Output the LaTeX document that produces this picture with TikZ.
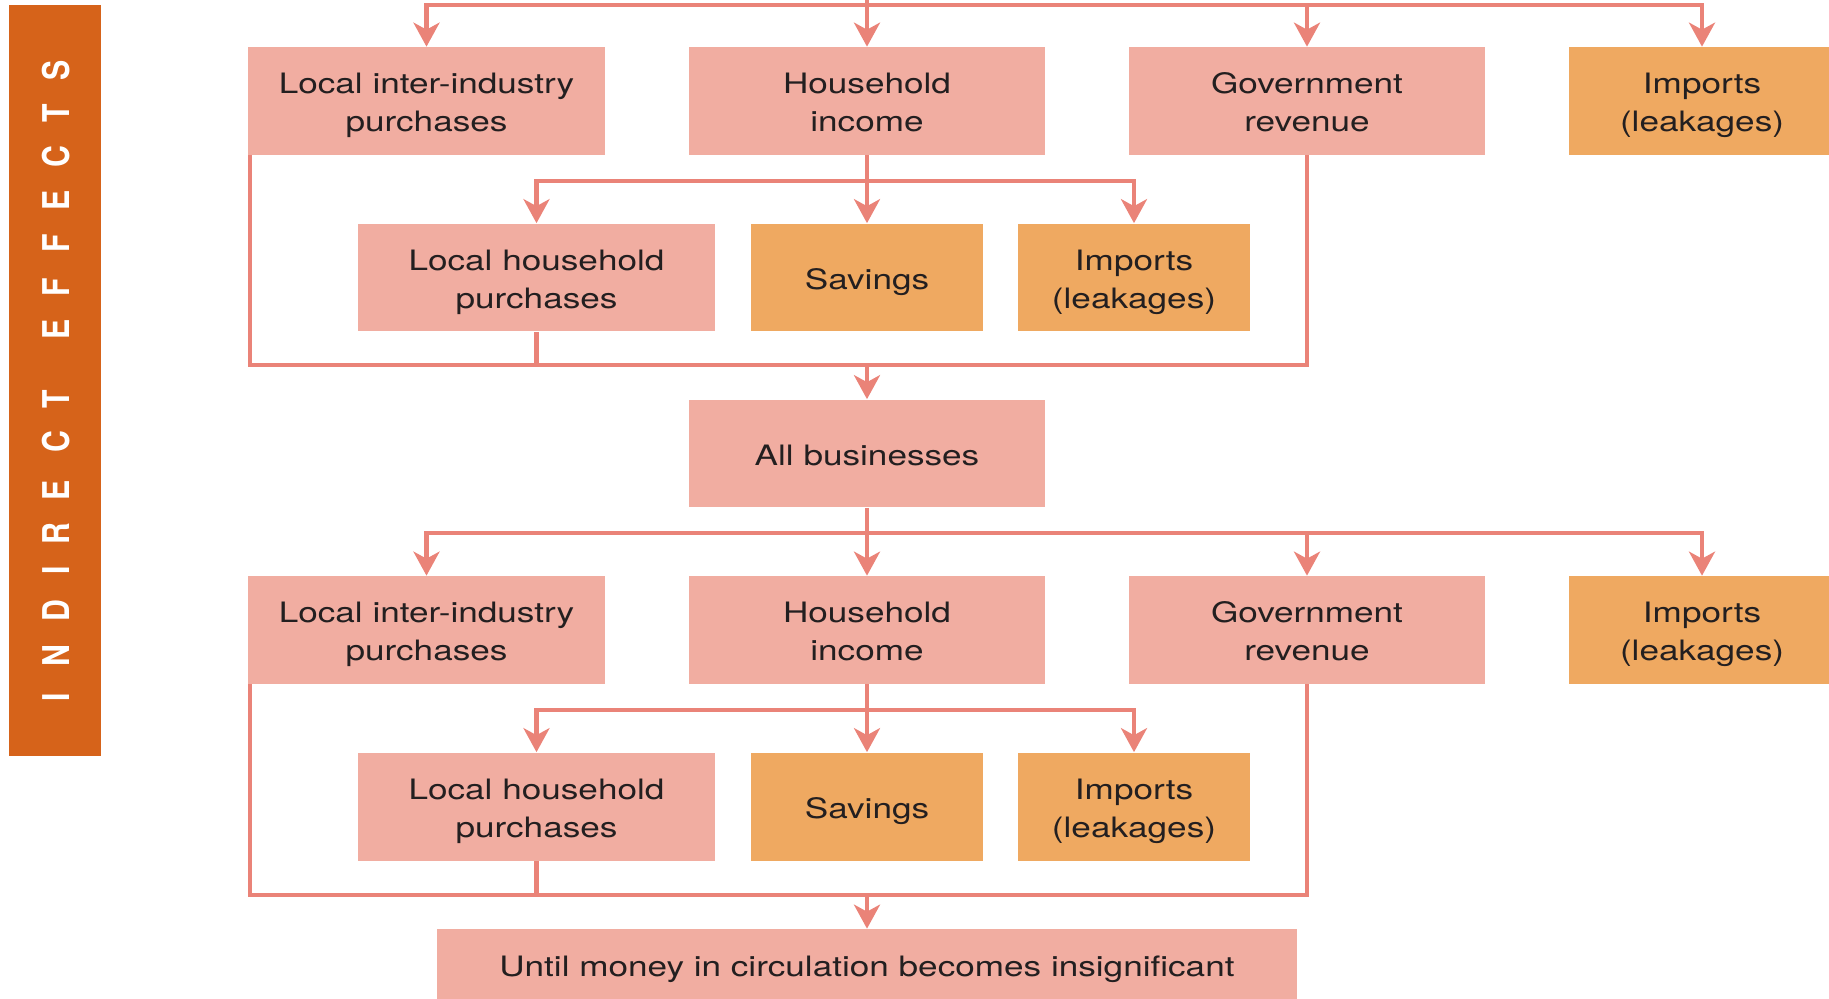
\documentclass[tikz,border=0pt]{standalone}
\usepackage{fontspec}
\setmainfont{TeX Gyre Heros}[FakeStretch=1.25]
\newfontfamily\barfont{TeX Gyre Heros}[FakeStretch=0.82]
\usetikzlibrary{arrows.meta}
\definecolor{boxpink}{HTML}{F1ADA1}
\definecolor{boxorange}{HTML}{EFA961}
\definecolor{barorange}{HTML}{D6631A}
\definecolor{flowred}{HTML}{EA8378}
\definecolor{inkgray}{HTML}{231F20}
% text sits a little low in the boxes
\newcommand\boxlbl[1]{\raisebox{-2.3pt}[\height][\depth]{\begin{tabular}{@{}c@{}}#1\end{tabular}}}

\begin{document}
\begin{tikzpicture}[x=0.02cm, y=-0.02cm,
    box/.style={minimum width=7.14cm, minimum height=2.16cm, inner sep=0pt, align=center,
      text=inkgray, font=\fontsize{16}{21.6}\selectfont},
    pinkbox/.style={box, fill=boxpink},
    leakbox/.style={box, fill=boxorange},
    wire/.style={draw=flowred, line width=2.5pt},
    flow/.style={wire, -{Stealth[length=0.48cm, width=0.52cm, inset=0.14cm]}},
    barletter/.style={rotate=90, inner sep=0pt, text=white,
      font=\barfont\bfseries\fontsize{21}{21}\selectfont}]
        \useasboundingbox (0,0) rectangle (1829,998);

        \node[fill=barorange, inner sep=0pt, minimum width=1.84cm, minimum height=15.02cm] (bar) at (55,380.5) {};
        \foreach \ch/\yy [count=\i] in {I/697,N/656,D/611,I/570,R/534,E/490,C/442,T/399,
                                        E/329,F/287,F/243,E/200,C/157,T/113,S/70}
            \node[barletter] (letter\i) at (56.5,\yy) {\ch};

        % first round
        \node[pinkbox] (liip1) at (426.5,101) {\boxlbl{Local inter-industry\\purchases}};
        \node[pinkbox] (hi1) at (867,101) {\boxlbl{Household\\income}};
        \node[pinkbox] (gr1) at (1307,101) {\boxlbl{Government\\revenue}};
        \node[leakbox, minimum width=5.32cm] (imp1) at (1702,101) {\boxlbl{Imports\\(leakages)}};
        \node[pinkbox] (lhp1) at (536.5,277.5) {\boxlbl{Local household\\purchases}};
        \node[leakbox, minimum width=4.64cm] (sav1) at (867,277.5) {\boxlbl{Savings}};
        \node[leakbox, minimum width=4.64cm] (imp2) at (1134,277.5) {\boxlbl{Imports\\(leakages)}};

        \node[pinkbox] (ab) at (867,453.5) {\boxlbl{All businesses}};

        % second round
        \node[pinkbox] (liip2) at (426.5,630) {\boxlbl{Local inter-industry\\purchases}};
        \node[pinkbox] (hi2) at (867,630) {\boxlbl{Household\\income}};
        \node[pinkbox] (gr2) at (1307,630) {\boxlbl{Government\\revenue}};
        \node[leakbox, minimum width=5.32cm] (imp3) at (1702,630) {\boxlbl{Imports\\(leakages)}};
        \node[pinkbox] (lhp2) at (536.5,806.5) {\boxlbl{Local household\\purchases}};
        \node[leakbox, minimum width=4.64cm] (sav2) at (867,806.5) {\boxlbl{Savings}};
        \node[leakbox, minimum width=4.64cm] (imp4) at (1134,806.5) {\boxlbl{Imports\\(leakages)}};

        \node[pinkbox, minimum width=17.2cm, minimum height=1.44cm] (until) at (867,965)
            {\boxlbl{Until money in circulation becomes insignificant}};

        \coordinate (top1) at (867,0);
        \coordinate (rail1) at (0,5);
        \coordinate (split1) at (0,181);
        \coordinate (join1) at (0,365);
        \coordinate (rail2) at (0,533);
        \coordinate (split2) at (0,710);
        \coordinate (join2) at (0,895);

        \draw[flow] (top1) -- (hi1.north);
        \draw[flow] (rail1 -| hi1) -| (liip1.north);
        \draw[flow] (rail1 -| hi1) -| (gr1.north);
        \draw[flow] (rail1 -| hi1) -| (imp1.north);
        \draw[flow] (hi1.south) -- (sav1.north);
        \draw[flow] (split1 -| hi1) -| (lhp1.north);
        \draw[flow] (split1 -| hi1) -| (imp2.north);
        \draw[wire] ([xshift=1.25pt]liip1.south west) |- (join1 -| gr1) -- (gr1.south);
        \draw[wire] (lhp1.south) -- (join1 -| lhp1);
        \draw[flow] (join1 -| ab) -- (ab.north);

        \draw[wire] (ab.south) -- (rail2 -| ab);
        \draw[flow] (rail2 -| ab) -- (hi2.north);
        \draw[flow] (rail2 -| hi2) -| (liip2.north);
        \draw[flow] (rail2 -| hi2) -| (gr2.north);
        \draw[flow] (rail2 -| hi2) -| (imp3.north);
        \draw[flow] (hi2.south) -- (sav2.north);
        \draw[flow] (split2 -| hi2) -| (lhp2.north);
        \draw[flow] (split2 -| hi2) -| (imp4.north);
        \draw[wire] ([xshift=1.25pt]liip2.south west) |- (join2 -| gr2) -- (gr2.south);
        \draw[wire] (lhp2.south) -- (join2 -| lhp2);
        \draw[flow] (join2 -| until) -- (until.north);
    \end{tikzpicture}
\end{document}
